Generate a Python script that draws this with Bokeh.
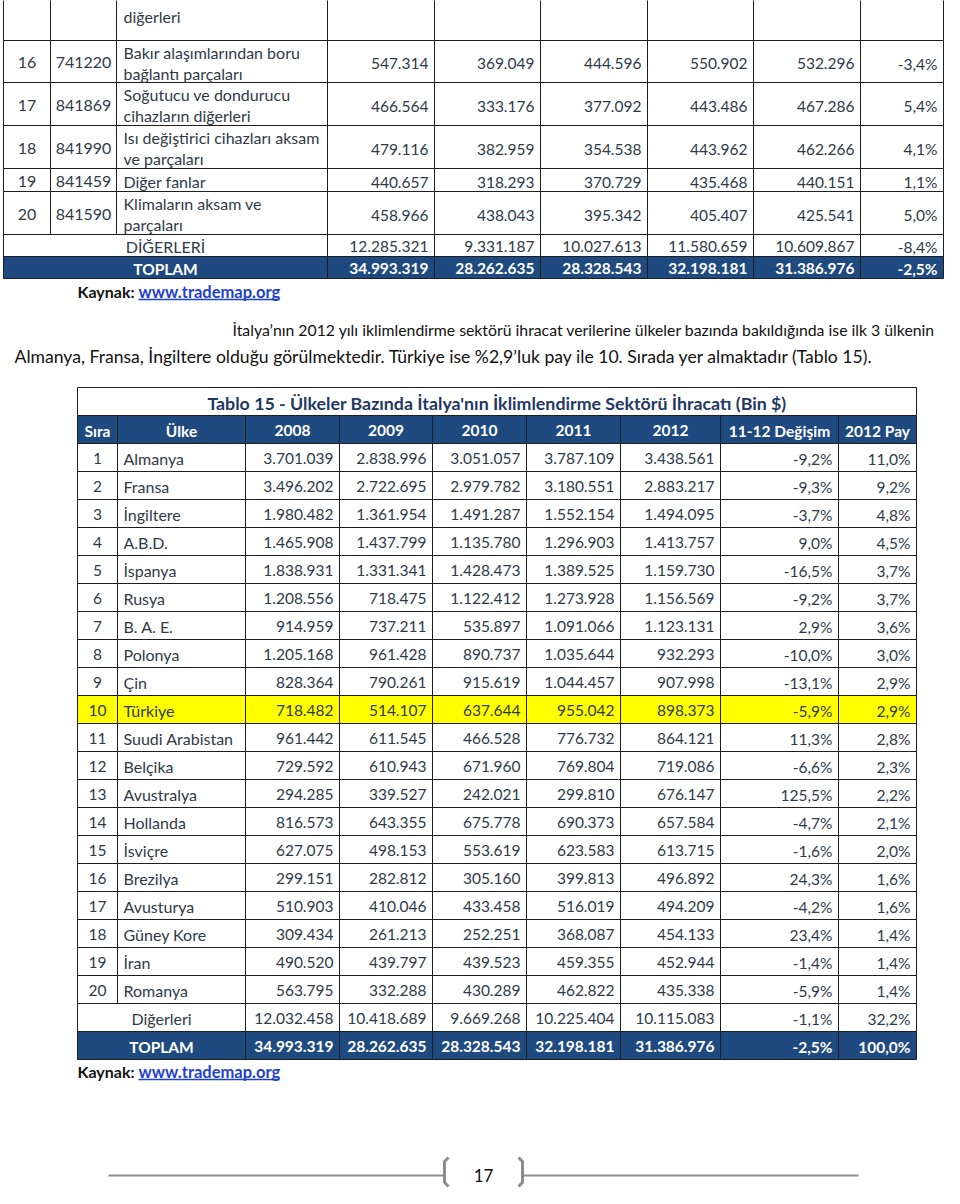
from bokeh.plotting import figure
from bokeh.models import Range1d, ColumnDataSource
from bokeh.core.properties import value
from bokeh.embed import file_html
from bokeh.resources import INLINE

FONT = "Lato"

# ---------------- Data: upper table (continuation of previous page) ----------------
t1_sira = ["", "16", "17", "18", "19", "20"]
t1_kod = ["", "741220", "841869", "841990", "841459", "841590"]
t1_urun = [
    ["diğerleri"],
    ["Bakır alaşımlarından boru", "bağlantı parçaları"],
    ["Soğutucu ve dondurucu", "cihazların diğerleri"],
    ["Isı değiştirici cihazları aksam", "ve parçaları"],
    ["Diğer fanlar"],
    ["Klimaların aksam ve", "parçaları"],
]
t1_2008 = ["", "547.314", "466.564", "479.116", "440.657", "458.966"]
t1_2009 = ["", "369.049", "333.176", "382.959", "318.293", "438.043"]
t1_2010 = ["", "444.596", "377.092", "354.538", "370.729", "395.342"]
t1_2011 = ["", "550.902", "443.486", "443.962", "435.468", "405.407"]
t1_2012 = ["", "532.296", "467.286", "462.266", "440.151", "425.541"]
t1_degisim = ["", "-3,4%", "5,4%", "4,1%", "1,1%", "5,0%"]
t1_diger = ["12.285.321", "9.331.187", "10.027.613", "11.580.659", "10.609.867", "-8,4%"]
t1_toplam = ["34.993.319", "28.262.635", "28.328.543", "32.198.181", "31.386.976", "-2,5%"]

kaynak_label = "Kaynak:"
kaynak_link = "www.trademap.org"

para_line1 = "İtalya’nın 2012 yılı iklimlendirme sektörü ihracat verilerine ülkeler bazında bakıldığında ise ilk 3 ülkenin"
para_line2 = "Almanya, Fransa, İngiltere olduğu görülmektedir. Türkiye ise %2,9’luk pay ile 10. Sırada yer almaktadır (Tablo 15)."

# ---------------- Data: Tablo 15 ----------------
t2_title = "Tablo 15 - Ülkeler Bazında İtalya'nın İklimlendirme Sektörü İhracatı (Bin $)"
t2_header = ["Sıra", "Ülke", "2008", "2009", "2010", "2011", "2012", "11-12 Değişim", "2012 Pay"]
t2_sira = [str(i) for i in range(1, 21)]
t2_ulke = ["Almanya", "Fransa", "İngiltere", "A.B.D.", "İspanya", "Rusya", "B. A. E.", "Polonya",
           "Çin", "Türkiye", "Suudi Arabistan", "Belçika", "Avustralya", "Hollanda", "İsviçre",
           "Brezilya", "Avusturya", "Güney Kore", "İran", "Romanya"]
t2_2008 = ["3.701.039", "3.496.202", "1.980.482", "1.465.908", "1.838.931", "1.208.556", "914.959",
           "1.205.168", "828.364", "718.482", "961.442", "729.592", "294.285", "816.573", "627.075",
           "299.151", "510.903", "309.434", "490.520", "563.795"]
t2_2009 = ["2.838.996", "2.722.695", "1.361.954", "1.437.799", "1.331.341", "718.475", "737.211",
           "961.428", "790.261", "514.107", "611.545", "610.943", "339.527", "643.355", "498.153",
           "282.812", "410.046", "261.213", "439.797", "332.288"]
t2_2010 = ["3.051.057", "2.979.782", "1.491.287", "1.135.780", "1.428.473", "1.122.412", "535.897",
           "890.737", "915.619", "637.644", "466.528", "671.960", "242.021", "675.778", "553.619",
           "305.160", "433.458", "252.251", "439.523", "430.289"]
t2_2011 = ["3.787.109", "3.180.551", "1.552.154", "1.296.903", "1.389.525", "1.273.928", "1.091.066",
           "1.035.644", "1.044.457", "955.042", "776.732", "769.804", "299.810", "690.373", "623.583",
           "399.813", "516.019", "368.087", "459.355", "462.822"]
t2_2012 = ["3.438.561", "2.883.217", "1.494.095", "1.413.757", "1.159.730", "1.156.569", "1.123.131",
           "932.293", "907.998", "898.373", "864.121", "719.086", "676.147", "657.584", "613.715",
           "496.892", "494.209", "454.133", "452.944", "435.338"]
t2_degisim = ["-9,2%", "-9,3%", "-3,7%", "9,0%", "-16,5%", "-9,2%", "2,9%", "-10,0%", "-13,1%", "-5,9%",
              "11,3%", "-6,6%", "125,5%", "-4,7%", "-1,6%", "24,3%", "-4,2%", "23,4%", "-1,4%", "-5,9%"]
t2_pay = ["11,0%", "9,2%", "4,8%", "4,5%", "3,7%", "3,7%", "3,6%", "3,0%", "2,9%", "2,9%",
          "2,8%", "2,3%", "2,2%", "2,1%", "2,0%", "1,6%", "1,6%", "1,4%", "1,4%", "1,4%"]
t2_diger = ["12.032.458", "10.418.689", "9.669.268", "10.225.404", "10.115.083", "-1,1%", "32,2%"]
t2_toplam = ["34.993.319", "28.262.635", "28.328.543", "32.198.181", "31.386.976", "-2,5%", "100,0%"]
highlight_country = "Türkiye"

page_number = "17"

# ---------------- Layout ----------------
BLUE = "#1f4a80"
TXT = "#2f3a48"
LINE = "#1e1e1e"
TXT_SIZE = "16px"
NUM_SIZE = "15.5px"

W, H = 944, 1188
p = figure(width=W, height=H, output_backend="svg", toolbar_location=None,
           x_range=Range1d(0, W), y_range=Range1d(H, 0),
           min_border=0, border_fill_color="white", background_fill_color="white")
p.axis.visible = False
p.grid.visible = False
p.outline_line_color = None

texts = dict(x=[], y=[], t=[], align=[], color=[], style=[], size=[])


def add_text(x, y, t, align="left", color=TXT, style="normal", size=TXT_SIZE):
    texts["x"].append(x)
    texts["y"].append(y)
    texts["t"].append(t)
    texts["align"].append(align)
    texts["color"].append(color)
    texts["style"].append(style)
    texts["size"].append(size)


segs = dict(x0=[], y0=[], x1=[], y1=[])


def add_seg(x0, y0, x1, y1):
    segs["x0"].append(x0)
    segs["y0"].append(y0)
    segs["x1"].append(x1)
    segs["y1"].append(y1)


# ---- upper table ----
X1 = [3, 50, 116, 327, 434, 540, 647, 753, 860, 943]
Y1 = [-10, 40, 82, 125, 168, 191, 234, 256, 278]
PAD = 6
LH = 21

p.quad(left=X1[0], right=X1[-1], top=Y1[7], bottom=Y1[8], fill_color=BLUE, line_color=None)

value_cols = [t1_2008, t1_2009, t1_2010, t1_2011, t1_2012, t1_degisim]
for r in range(len(t1_sira)):
    top, bot = Y1[r], Y1[r + 1]
    cy = (top + bot) / 2 + 1
    add_text((X1[0] + X1[1]) / 2, cy, t1_sira[r], "center")
    add_text((X1[1] + X1[2]) / 2, cy, t1_kod[r], "center")
    lines = t1_urun[r]
    n = len(lines)
    for k, ln in enumerate(lines):
        add_text(X1[2] + 7, cy + (k - (n - 1) / 2) * LH, ln)
    for c, col in enumerate(value_cols):
        add_text(X1[4 + c] - PAD, cy + 1, col[r], "right", TXT, "normal", NUM_SIZE)
    for xe in X1:
        add_seg(xe, top, xe, bot)

r0, r1 = Y1[6], Y1[7]
cy = (r0 + r1) / 2 + 1
add_text((X1[0] + X1[3]) / 2, cy, "DİĞERLERİ", "center")
for c, v in enumerate(t1_diger):
    add_text(X1[4 + c] - PAD, cy, v, "right", TXT, "normal", NUM_SIZE)
r0b, r1b = Y1[7], Y1[8]
cyb = (r0b + r1b) / 2 + 1
add_text((X1[0] + X1[3]) / 2, cyb, "TOPLAM", "center", "white", "bold", NUM_SIZE)
for c, v in enumerate(t1_toplam):
    add_text(X1[4 + c] - PAD, cyb, v, "right", "white", "bold", NUM_SIZE)
for xe in [X1[0]] + X1[3:]:
    add_seg(xe, Y1[6], xe, Y1[8])
for ye in Y1[1:]:
    add_seg(X1[0], ye, X1[-1], ye)

LINK = "#1f3fcf"
add_text(77, 291, kaynak_label, "left", "#111111", "bold", "16px")
add_text(138, 291, kaynak_link, "left", LINK, "bold", "16.5px")
p.segment(x0=[138], y0=[299], x1=[279], y1=[299], line_color=LINK, line_width=1.3)

add_text(232, 329, para_line1, "left", "#111111", "normal", "15.8px")
add_text(14, 356, para_line2, "left", "#111111", "normal", "17.6px")

# ---- Tablo 15 ----
X2 = [77, 117, 245, 339, 432, 526, 620, 720, 838, 916]
T_TOP, T_BOT = 387, 415
HDR_BOT = 443
RH = 28
n_rows = len(t2_sira)
rows_y = [HDR_BOT + RH * i for i in range(n_rows + 3)]

p.quad(left=X2[0], right=X2[-1], top=T_BOT, bottom=HDR_BOT, fill_color=BLUE, line_color=None)
p.quad(left=X2[0], right=X2[-1], top=rows_y[n_rows + 1], bottom=rows_y[n_rows + 2],
       fill_color=BLUE, line_color=None)
hi = t2_ulke.index(highlight_country)
p.quad(left=X2[0], right=X2[-1], top=rows_y[hi], bottom=rows_y[hi + 1],
       fill_color="#ffff00", line_color=None)

add_text((X2[0] + X2[-1]) / 2, (T_TOP + T_BOT) / 2 + 1, t2_title, "center", "#1f3864", "bold", "17.8px")
add_seg(X2[0], T_TOP, X2[-1], T_TOP)
add_seg(X2[0], T_TOP, X2[0], T_BOT)
add_seg(X2[-1], T_TOP, X2[-1], T_BOT)

hy = (T_BOT + HDR_BOT) / 2 + 1
for c, h in enumerate(t2_header):
    add_text((X2[c] + X2[c + 1]) / 2, hy, h, "center", "white", "bold", "15.5px")

cols2 = [t2_2008, t2_2009, t2_2010, t2_2011, t2_2012, t2_degisim, t2_pay]
for r in range(n_rows):
    cy = (rows_y[r] + rows_y[r + 1]) / 2 + 1
    add_text((X2[0] + X2[1]) / 2, cy, t2_sira[r], "center", TXT, "normal", NUM_SIZE)
    add_text(X2[1] + 6, cy, t2_ulke[r], "left")
    for c, col in enumerate(cols2):
        add_text(X2[2 + c + 1] - PAD, cy, col[r], "right", TXT, "normal", NUM_SIZE)

cy = (rows_y[n_rows] + rows_y[n_rows + 1]) / 2 + 1
add_text((X2[0] + X2[2]) / 2, cy, "Diğerleri", "center")
for c, v in enumerate(t2_diger):
    add_text(X2[3 + c] - PAD, cy, v, "right", TXT, "normal", NUM_SIZE)
cy = (rows_y[n_rows + 1] + rows_y[n_rows + 2]) / 2 + 1
add_text((X2[0] + X2[2]) / 2, cy, "TOPLAM", "center", "white", "bold", NUM_SIZE)
for c, v in enumerate(t2_toplam):
    add_text(X2[3 + c] - PAD, cy, v, "right", "white", "bold", NUM_SIZE)

for ye in [T_BOT] + rows_y:
    add_seg(X2[0], ye, X2[-1], ye)
for i, xe in enumerate(X2):
    end = rows_y[n_rows] if i == 1 else rows_y[-1]
    add_seg(xe, T_BOT, xe, end)

add_text(77, 1071, kaynak_label, "left", "#111111", "bold", "16px")
add_text(138, 1071, kaynak_link, "left", LINK, "bold", "16.5px")
p.segment(x0=[138], y0=[1079], x1=[279], y1=[1079], line_color=LINK, line_width=1.3)

p.segment(x0="x0", y0="y0", x1="x1", y1="y1", source=ColumnDataSource(segs),
          line_color=LINE, line_width=1)

# page footer
FY = 1175
p.segment(x0=[108, 523], y0=[FY, FY], x1=[443, 858], y1=[FY, FY],
          line_color="#8c8c8c", line_width=2)
p.line(x=[448, 444, 444, 448], y=[FY - 18, FY - 14, FY + 7, FY + 11], line_color="#8c8c8c", line_width=3)
p.line(x=[518, 522, 522, 518], y=[FY - 18, FY - 14, FY + 7, FY + 11], line_color="#8c8c8c", line_width=3)
add_text(483, FY, page_number, "center", "#111111", "normal", "17px")

src = ColumnDataSource(texts)
p.text(x="x", y="y", text="t", source=src, text_align="align", text_color="color",
       text_font_style="style", text_font_size="size", text_baseline="middle",
       text_font=value(FONT))

open("out.html", "w").write(file_html(p, INLINE))
